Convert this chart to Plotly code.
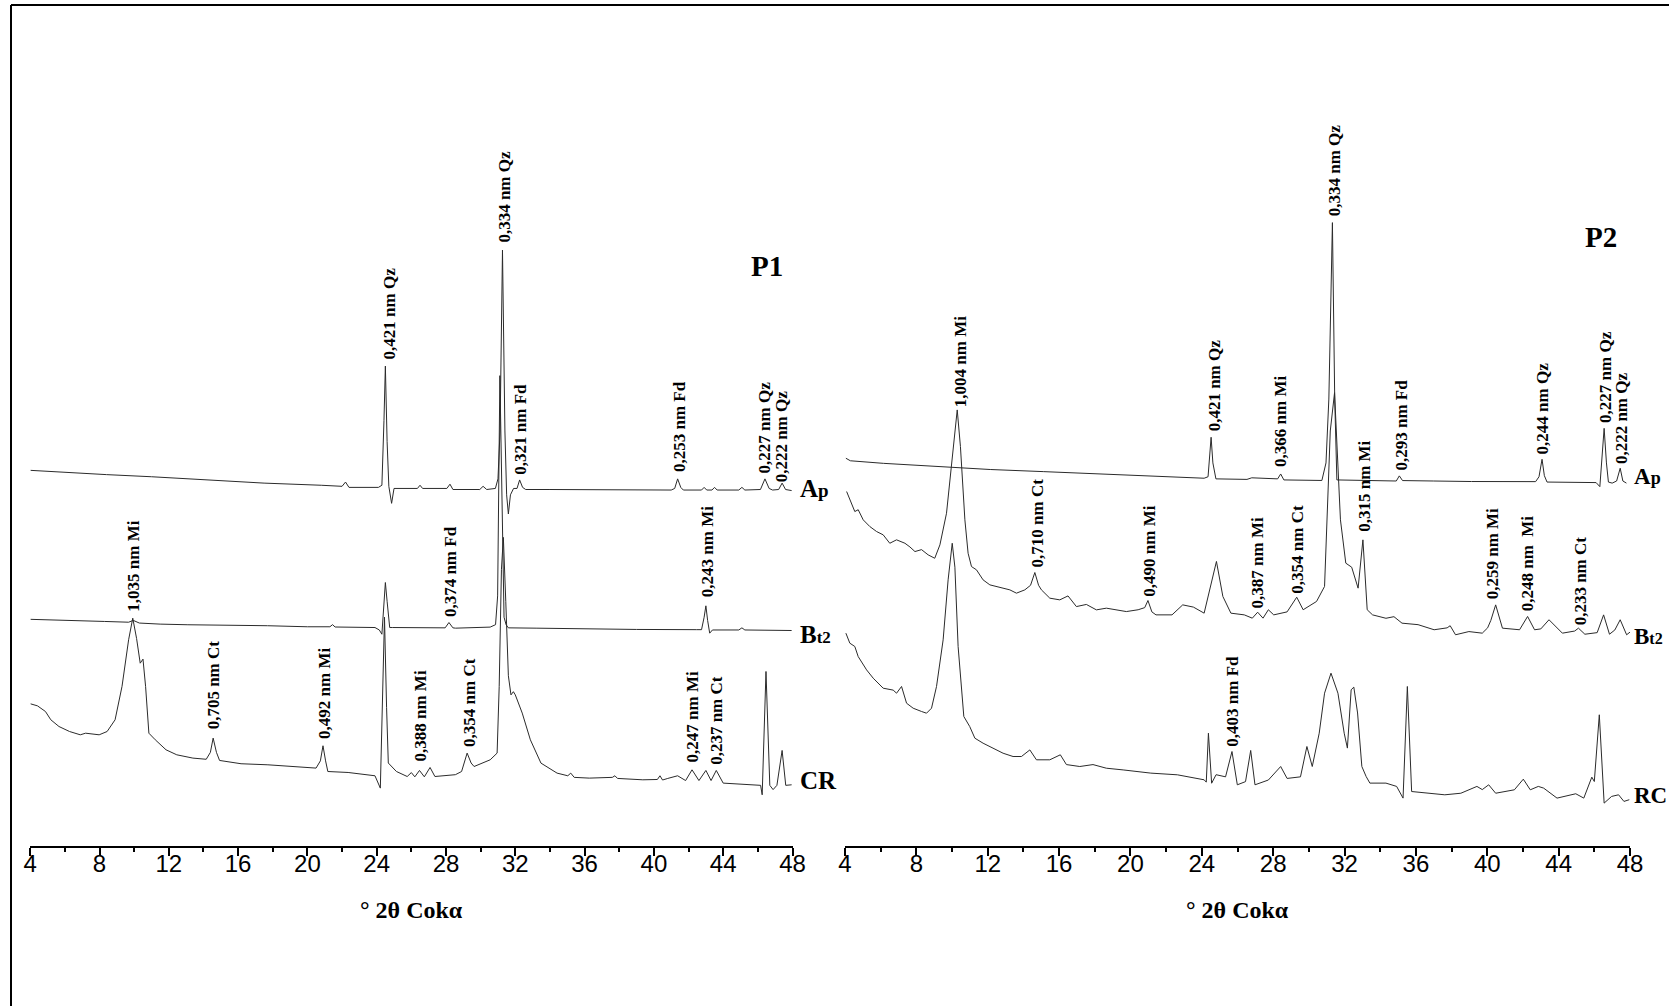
import plotly.graph_objects as go

# ---------------- data (2θ in degrees, intensity in arbitrary units) ----------------
p1_ap_x = [4.02, 6.0, 8.4, 11.0, 14.6, 17.5, 20.8, 22.0, 22.2, 22.4,
           24.1, 24.3, 24.42, 24.5, 24.6, 24.7, 24.86, 25.0, 26.35, 26.5,
           26.65, 28.05, 28.23, 28.4, 29.95, 30.14, 30.35, 30.85, 31.0, 31.12,
           31.26, 31.4, 31.5, 31.6, 31.72, 31.9, 32.1, 32.25, 32.42, 32.6,
           34.0, 36.3, 38.5, 41.0, 41.2, 41.37, 41.55, 41.7, 42.75, 42.9,
           43.05, 43.35, 43.5, 43.65, 44.9, 45.08, 45.25, 46.15, 46.41, 46.65,
           46.85, 47.2, 47.4, 47.6, 47.95]
p1_ap_y = [353, 351, 349, 347, 344, 341, 339, 338, 342, 337,
           337, 339, 400, 451, 380, 338, 322, 336, 336, 339,
           336, 336, 340, 335, 335, 338, 335, 336, 345, 390,
           560, 390, 330, 312, 330, 336, 336, 344, 337, 335,
           335, 335, 334.5, 334.5, 336, 345, 337, 334.5, 334.5, 337,
           334.5, 334.5, 337, 334.5, 334.5, 337, 334.5, 335, 345, 336,
           334.5, 335, 341, 335, 334]

p1_bt_x = [4.02, 5.5, 6.9, 8.3, 9.68, 9.95, 10.3, 11.5, 13.1, 15.5,
           17.7, 20.0, 21.3, 21.45, 21.6, 23.9, 24.15, 24.3, 24.42, 24.5,
           24.6, 24.75, 24.9, 26.0, 27.6, 27.95, 28.17, 28.4, 28.55, 30.55,
           30.86, 30.98, 31.11, 31.25, 31.35, 31.47, 31.6, 33.2, 36.0, 39.0,
           42.45, 42.75, 42.9, 43.0, 43.1, 43.22, 43.38, 44.9, 45.08, 45.25,
           47.95]
p1_bt_y = [213, 212.5, 211.6, 211, 210.3, 212, 209.5, 208.5, 207.9, 207.5,
           207, 206, 206, 208, 205.8, 205.3, 203, 199, 230, 247.6,
           230, 205.3, 205.3, 205, 204.7, 205, 210, 205, 204.7, 205.7,
           208, 235, 442, 300, 215, 207.9, 205, 204.7, 204, 203.5,
           203.3, 203.3, 215, 225.7, 212, 200, 203, 203, 205, 203,
           202.5]

p1_cr_x = [4.02, 4.42, 4.88, 5.19, 5.66, 6.27, 6.89, 7.2, 7.51, 7.98,
           8.44, 8.9, 9.3, 9.68, 9.92, 10.14, 10.35, 10.51, 10.66, 10.85,
           11.22, 11.84, 12.46, 13.39, 14.16, 14.4, 14.56, 14.75, 14.93, 16.17,
           17.72, 19.26, 20.5, 20.75, 20.9, 21.05, 21.18, 22.35, 23.9, 24.21,
           24.33, 24.45, 24.57, 24.67, 25.14, 25.76, 26.0, 26.2, 26.47, 26.75,
           27.08, 27.36, 28.54, 28.9, 29.22, 29.45, 29.62, 30.08, 30.55, 30.95,
           31.07, 31.2, 31.31, 31.45, 31.6, 31.75, 31.89, 32.0, 32.4, 32.87,
           33.48, 34.41, 35.03, 35.2, 35.4, 36.27, 37.6, 37.75, 37.9, 39.36,
           40.2, 40.35, 40.5, 40.8, 41.37, 41.83, 42.2, 42.6, 43.0, 43.3,
           43.6, 44.0, 45.54, 46.16, 46.25, 46.47, 46.69, 46.88, 47.1, 47.4,
           47.61, 47.95]
p1_cr_y = [133.6, 131.7, 126.4, 118.6, 112.3, 107.6, 104.5, 106, 105.4, 104.5,
           107.6, 118.6, 150, 193.8, 214.1, 195, 171.8, 175.6, 150, 106,
           99.8, 90.4, 85.7, 82.6, 81.5, 88, 101.4, 88, 80.4, 77.3,
           76.3, 74.7, 73.2, 80, 94.2, 80, 70, 69.1, 66, 54.4,
           140, 215, 130, 78, 70, 65.3, 69, 65, 71, 65,
           73.8, 65.3, 67, 70, 87.3, 78, 74.7, 77.9, 81, 87.3,
           150, 260, 290, 230, 160, 142, 145, 142, 124.9, 99.8,
           77.9, 68.5, 66, 68.5, 64.5, 63.8, 64.5, 66, 63.5, 62.2,
           62.5, 66, 62, 63.5, 66, 61.5, 71.6, 61.5, 71, 61.5,
           71, 59.1, 57.5, 57, 48.1, 164, 57, 53, 57, 89.8,
           57, 57.5]

p2_ap_x = [4.05, 4.3, 6.15, 9.15, 12.14, 15.14, 18.14, 21.13, 24.13, 24.35,
           24.45, 24.52, 24.62, 24.79, 26.53, 26.8, 28.25, 28.42, 28.6, 30.73,
           30.96, 31.12, 31.32, 31.45, 31.57, 33.0, 34.9, 35.07, 35.25, 37.0,
           39.12, 42.71, 42.9, 43.07, 43.2, 43.35, 46.1, 46.31, 46.45, 46.55,
           46.68, 46.79, 47.0, 47.25, 47.45, 47.6, 47.8]
p2_ap_y = [364.4, 362, 359.6, 356.5, 353.8, 351.8, 349.6, 347.8, 345.6, 347,
           370, 384.1, 360, 345, 344.5, 346, 345, 349.6, 344, 343.5,
           360, 420, 585.8, 420, 344, 343.5, 343, 347.8, 343.4, 343,
           342.5, 342.4, 347, 363.4, 348, 342, 341.5, 337.7, 370, 392.5,
           360, 342, 341, 343, 355, 343, 341]

p2_bt_x = [4.09, 4.27, 4.55, 4.74, 5.02, 5.39, 5.77, 6.14, 6.51, 6.89,
           7.36, 7.64, 7.92, 8.29, 8.66, 9.03, 9.32, 9.69, 9.97, 10.29,
           10.47, 10.72, 10.9, 11.09, 11.37, 11.74, 12.12, 12.49, 12.86, 13.24,
           13.61, 14.08, 14.4, 14.64, 14.85, 15.01, 15.48, 16.04, 16.5, 16.97,
           17.53, 18.09, 18.65, 19.21, 19.77, 20.43, 20.8, 20.98, 21.2, 21.43,
           22.33, 22.93, 23.53, 24.13, 24.49, 24.82, 25.18, 25.63, 26.38, 26.83,
           27.13, 27.43, 27.73, 28.03, 28.78, 29.32, 29.68, 30.43, 30.88, 31.07,
           31.2, 31.44, 31.6, 31.77, 32.07, 32.4, 32.76, 33.03, 33.27, 33.57,
           34.32, 34.77, 35.22, 36.12, 37.02, 37.75, 37.92, 38.22, 38.97, 39.72,
           40.02, 40.2, 40.47, 40.85, 41.81, 42.26, 42.65, 43.0, 43.46, 44.21,
           44.9, 45.11, 45.47, 46.16, 46.52, 46.85, 47.15, 47.45, 47.81, 48.0]
p2_bt_y = [333.1, 325.2, 314.3, 316, 306.5, 300.2, 295.5, 292.4, 284.5, 287.7,
           284.5, 281, 276.7, 278.5, 273.6, 270.4, 283, 312.7, 359.7, 409.8,
           375.4, 306.5, 275.1, 262.6, 259.5, 250.1, 245.4, 243.8, 242.5, 240.7,
           237.6, 240.7, 245, 257, 245, 240.7, 232.9, 231.3, 235, 225,
           227, 221.9, 223.5, 222, 220.3, 222, 224, 230.7, 220, 217.2,
           217.2, 226.6, 224.5, 218.8, 243.9, 267.4, 234.5, 218.8, 217.2, 214.1,
           219.7, 214.1, 222, 217.2, 220, 233.8, 222, 229.8, 243.9, 323,
           390, 426, 370, 306.5, 265.8, 262, 242.3, 287.7, 222, 217.2,
           214, 215.5, 209.4, 208, 203.2, 205, 207, 198.5, 201.5, 200,
           205, 212, 226.6, 204.7, 203.2, 215.7, 203.2, 204, 212.6, 200,
           202, 204.7, 199, 200.5, 217.2, 199, 203, 212.6, 198.5, 201]

p2_rc_x = [4.05, 4.27, 4.55, 4.74, 5.21, 5.58, 6.14, 6.7, 6.89, 7.17,
           7.45, 7.82, 8.29, 8.57, 8.85, 9.13, 9.5, 9.78, 10.01, 10.16,
           10.34, 10.66, 10.99, 11.28, 11.74, 12.3, 12.86, 13.42, 13.89, 14.36,
           14.73, 15.48, 16.07, 16.41, 17.16, 17.9, 18.65, 19.59, 20.33, 21.14,
           22.63, 24.13, 24.25, 24.37, 24.55, 24.8, 25.33, 25.69, 25.99, 26.45,
           26.74, 26.98, 27.73, 28.42, 28.78, 29.53, 29.89, 30.19, 30.58, 30.88,
           31.24, 31.63, 31.98, 32.16, 32.37, 32.52, 32.73, 32.97, 33.21, 33.42,
           34.32, 34.92, 35.28, 35.52, 35.76, 36.72, 37.62, 38.52, 39.42, 39.72,
           40.08, 40.47, 41.52, 42.02, 42.41, 42.86, 43.16, 43.91, 44.96, 45.41,
           45.86, 46.0, 46.28, 46.55, 46.97, 47.36, 47.66, 47.96]
p2_rc_y = [200, 190.6, 187.5, 178, 165.5, 157.7, 148.3, 146.5, 143.6, 149.9,
           134.2, 129.5, 126.4, 124.8, 129.5, 149.9, 193.7, 250.1, 284.5, 262,
           187.4, 121.7, 112.3, 101.3, 96.6, 91.9, 87.2, 84.1, 84.1, 90.3,
           81, 81, 85.7, 76.5, 74.7, 76.5, 73.1, 71.5, 70, 68.5,
           66.9, 62.2, 60, 106, 59, 67, 65, 88.8, 57.5, 60.5,
           89.8, 57.5, 62, 74.7, 63.5, 65, 93.5, 74.7, 106, 143.6,
           162.4, 143.6, 106, 92, 146.8, 149.3, 125, 74.7, 65.3, 59.1,
           59.1, 56, 45, 149.9, 51.2, 49.6, 48.1, 49.6, 56, 53,
           57.5, 49.6, 52.8, 62.8, 52.8, 56, 54.4, 45, 49.1, 45,
           64.7, 60.6, 123.3, 40.3, 46.6, 48.1, 41.9, 43.5]

# peak labels (d-spacing + mineral), position of each label foot
p1_labels = ["0,421 nm Qz", "0,334 nm Qz", "0,321 nm Fd", "0,253 nm Fd", "0,227 nm Qz",
             "0,222 nm Qz", "1,035 nm Mi", "0,374 nm Fd", "0,243 nm Mi", "0,705 nm Ct",
             "0,492 nm Mi", "0,388 nm Mi", "0,354 nm Ct", "0,247 nm Mi", "0,237 nm Ct"]
p1_label_x = [24.75, 31.4, 32.3, 41.45, 46.4, 47.35, 9.95, 28.25, 43.1, 14.6,
              20.95, 26.5, 29.35, 42.25, 43.65]
p1_label_y = [456, 566, 348, 350, 349, 341, 219, 214, 233, 109,
              100, 78, 92, 78, 75]

p2_labels = ["1,004 nm Mi", "0,421 nm Qz", "0,366 nm Mi", "0,334 nm Qz", "0,293 nm Fd",
             "0,244 nm Qz", "0,227 nm Qz", "0,222 nm Qz", "0,315 nm Mi", "0,710 nm Ct",
             "0,490 nm Mi", "0,387 nm Mi", "0,354 nm Ct", "0,259 nm Mi", "0,248 nm\u00a0\u00a0Mi",
             "0,233 nm Ct", "0,403 nm Fd"]
p2_label_x = [10.45, 24.7, 28.45, 31.42, 35.2, 43.12, 46.62, 47.5, 33.1, 14.8,
              21.05, 27.1, 29.35, 40.3, 42.25, 45.2, 25.75]
p2_label_y = [411, 389, 355, 591, 352, 367, 397, 358, 294, 261,
              233, 222, 236, 231, 220, 206, 92]

# horizon names and their vertical position (same intensity units)
p1_series = ["A<span style='font-size:19px'>p</span>",
             "B<span style='font-size:17px'>t2</span>", "CR"]
p1_series_y = [336, 199, 62]
p2_series = ["A<span style='font-size:18px'>p</span>",
             "B<span style='font-size:16px'>t2</span>", "RC"]
p2_series_y = [347, 197, 47]

tick_vals = [4, 8, 12, 16, 20, 24, 28, 32, 36, 40, 44, 48]
x_title = "° 2θ Cokα"

# ---------------- figure ----------------
W, H = 1669, 1006
LINE = "#2b2b2b"
SERIF = "Liberation Serif, Times New Roman, serif"
SANS = "Liberation Sans Narrow, Arial Narrow, Liberation Sans, Arial, sans-serif"

fig = go.Figure()
for xs, ys in [(p1_ap_x, p1_ap_y), (p1_bt_x, p1_bt_y), (p1_cr_x, p1_cr_y)]:
    fig.add_trace(go.Scatter(x=xs, y=ys, mode="lines", xaxis="x", yaxis="y",
                             line=dict(color=LINE, width=1), hoverinfo="skip",
                             showlegend=False))
for xs, ys in [(p2_ap_x, p2_ap_y), (p2_bt_x, p2_bt_y), (p2_rc_x, p2_rc_y)]:
    fig.add_trace(go.Scatter(x=xs, y=ys, mode="lines", xaxis="x2", yaxis="y2",
                             line=dict(color=LINE, width=1), hoverinfo="skip",
                             showlegend=False))

ydom = [(H - 846) / H, 1.0]
xdom1 = [30.2 / W, 792.5 / W]
xdom2 = [845.0 / W, 1630.0 / W]

xaxis_common = dict(
    range=[4, 48], tickmode="array", tickvals=tick_vals,
    ticks="outside", ticklen=8, tickwidth=1.5, tickcolor="black",
    showline=True, linewidth=2, linecolor="black", mirror=False,
    showgrid=False, zeroline=False, automargin=False,
    tickfont=dict(family=SANS, size=24, color="black"),
    ticklabelstandoff=-13,
    minor=dict(tickmode="linear", tick0=4, dtick=2, ticks="outside", ticklen=4,
               tickwidth=1.5, tickcolor="black", showgrid=False),
    fixedrange=True,
)
yaxis_common = dict(range=[0, 795], domain=ydom, visible=False, showgrid=False,
                    zeroline=False, fixedrange=True, automargin=False)

fig.update_layout(
    width=W, height=H,
    margin=dict(l=0, r=0, t=0, b=0),
    paper_bgcolor="white", plot_bgcolor="white",
    xaxis=dict(domain=xdom1, anchor="y", **xaxis_common),
    xaxis2=dict(domain=xdom2, anchor="y2", **xaxis_common),
    yaxis=dict(anchor="x", **yaxis_common),
    yaxis2=dict(anchor="x2", **yaxis_common),
    showlegend=False,
)

annotations = []
for txt, x, y in zip(p1_labels, p1_label_x, p1_label_y):
    annotations.append(dict(text="<b>" + txt + "</b>", x=x, y=y, xref="x", yref="y",
                            textangle=-90, xanchor="center", yanchor="bottom",
                            showarrow=False, borderpad=0,
                            font=dict(family=SERIF, size=17, color="black")))
for txt, x, y in zip(p2_labels, p2_label_x, p2_label_y):
    annotations.append(dict(text="<b>" + txt + "</b>", x=x, y=y, xref="x2", yref="y2",
                            textangle=-90, xanchor="center", yanchor="bottom",
                            showarrow=False, borderpad=0,
                            font=dict(family=SERIF, size=17, color="black")))
for txt, y in zip(p1_series, p1_series_y):
    annotations.append(dict(text="<b>" + txt + "</b>", x=799.0 / W, y=y, xref="paper", yref="y",
                            xanchor="left", yanchor="middle", showarrow=False, borderpad=0,
                            font=dict(family=SERIF, size=25, color="black")))
for txt, y in zip(p2_series, p2_series_y):
    annotations.append(dict(text="<b>" + txt + "</b>", x=1633.0 / W, y=y, xref="paper", yref="y2",
                            xanchor="left", yanchor="middle", showarrow=False, borderpad=0,
                            font=dict(family=SERIF, size=23, color="black")))
annotations.append(dict(text="<b>P1</b>", x=46.55, y=545, xref="x", yref="y",
                        xanchor="center", yanchor="middle", showarrow=False,
                        font=dict(family=SERIF, size=29, color="black")))
annotations.append(dict(text="<b>P2</b>", x=46.4, y=572, xref="x2", yref="y2",
                        xanchor="center", yanchor="middle", showarrow=False,
                        font=dict(family=SERIF, size=29, color="black")))
# axis titles
for xc in [(30.2 + 792.5) / 2 / W, (845.0 + 1630.0) / 2 / W]:
    annotations.append(dict(text="<b>" + x_title + "</b>", x=xc, y=1 - 910 / H,
                            xref="paper", yref="paper",
                            xanchor="center", yanchor="middle", showarrow=False,
                            font=dict(family=SERIF, size=24, color="black")))
fig.update_layout(annotations=annotations)

# outer frame (only top and left edges fall inside the picture)
fig.add_shape(type="line", xref="paper", yref="paper", x0=11 / W, x1=1.0,
              y0=1 - 5 / H, y1=1 - 5 / H, line=dict(color="black", width=2))
fig.add_shape(type="line", xref="paper", yref="paper", x0=11 / W, x1=11 / W,
              y0=0, y1=1 - 5 / H, line=dict(color="black", width=2))

fig.write_html("out.html")
